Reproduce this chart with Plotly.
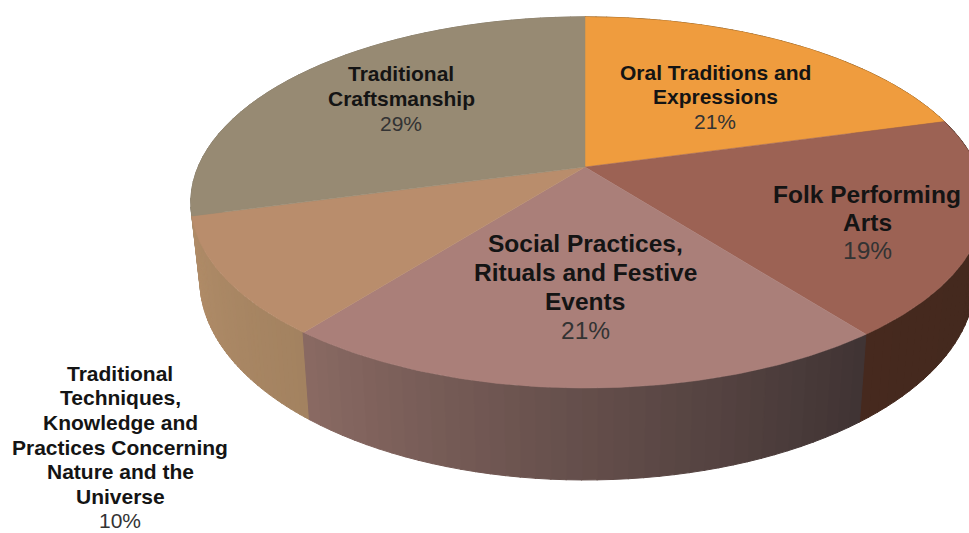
import numpy as np
import plotly.graph_objects as go

categories = [["Oral Traditions and", "Expressions"], ["Folk Performing", "Arts"],
              ["Social Practices,", "Rituals and Festive", "Events"],
              ["Traditional", "Techniques,", "Knowledge and", "Practices Concerning", "Nature and the", "Universe"],
              ["Traditional", "Craftsmanship"]]
values = [20.7, 18.9, 21.0, 10.2, 29.2]
percent_labels = ["21%", "19%", "21%", "10%", "29%"]
top_colors = ["#EF9C3E", "#9C6254", "#AA7F79", "#B98D6C", "#978A73"]
wall_left = ["#8a5a20", "#46291e", "#8A6A63", "#B08C68", "#8a8070"]
wall_right = ["#8a5a20", "#40291E", "#3F3333", "#A38260", "#8a8070"]
label_x = [715, 867, 585, 120, 401]
label_y = [96.5, 222, 287, 447, 98]
label_size = [21, 24.5, 24.5, 21, 21]
label_step = [24.5, 28, 29, 24.6, 25]

CX, CY, A_RIGHT, A_LEFT, B, K, H, S = 585, 167, 392, 387, 178.8, 0.191, 74.4, 0.977


def project(theta):
    u, v = np.sin(theta), np.cos(theta)
    w = 1 + K * v
    a = np.where(u >= 0, A_RIGHT, A_LEFT)
    return CX + a * u / w, CY - B * v / w


def project_base(theta):
    x, y = project(theta)
    return CX + (x - CX) * S, y + H / (1 + K * np.cos(theta))


def mix(c1, c2, t):
    a = [int(c1[i:i + 2], 16) for i in (1, 3, 5)]
    b = [int(c2[i:i + 2], 16) for i in (1, 3, 5)]
    return "rgb(%d,%d,%d)" % tuple(round(p + (q - p) * t) for p, q in zip(a, b))


fig = go.Figure()
fractions = np.cumsum([0] + values) / sum(values)
edges = 2 * np.pi * fractions

# Walls first, far side to near side; the top face covers what cannot be seen.
order = [4, 0, 3, 1, 2]
for i in order:
    a0, a1 = edges[i], edges[i + 1]
    steps = np.linspace(a0, a1, 41)
    for j in range(40):
        t0, t1 = steps[j], steps[j + 1] + 0.002
        xt, yt = project(np.array([t0, t1]))
        xb, yb = project_base(np.array([t0, t1]))
        # Light falls from the left, so shading runs along the screen position.
        col = mix(wall_right[i], wall_left[i], (j + 0.5) / 40)
        fig.add_trace(go.Scatter(
            x=[xt[0], xt[1], xb[1], xb[0], xt[0]],
            y=[yt[0], yt[1], yb[1], yb[0], yt[0]],
            mode="lines", fill="toself", fillcolor=col,
            line=dict(color=col, width=1), hoverinfo="skip", showlegend=False))

for i in range(len(values)):
    th = np.linspace(edges[i], edges[i + 1], 120)
    x, y = project(th)
    xs = np.concatenate([[CX], x, [CX]])
    ys = np.concatenate([[CY], y, [CY]])
    fig.add_trace(go.Scatter(
        x=xs, y=ys, mode="lines", fill="toself", fillcolor=top_colors[i],
        line=dict(color=top_colors[i], width=0.5), hoverinfo="skip", showlegend=False))

for lines, pct, lx, ly, size, step in zip(categories, percent_labels, label_x, label_y, label_size, label_step):
    n = len(lines) + 1
    texts = [f"<b>{t}</b>" for t in lines] + [f"<span style='color:#333'>{pct}</span>"]
    for k, t in enumerate(texts):
        yy = ly + (k - (n - 1) / 2) * step
        fig.add_annotation(
            x=lx, y=yy, xref="x", yref="y",
            showarrow=False, align="center", text=t,
            font=dict(family="Liberation Sans", size=size, color="#141414"))

fig.update_layout(
    width=969, height=533, autosize=False,
    margin=dict(l=0, r=0, t=0, b=0),
    paper_bgcolor="white", plot_bgcolor="white",
    xaxis=dict(range=[0, 969], visible=False, fixedrange=True),
    yaxis=dict(range=[533, 0], visible=False, fixedrange=True),
    showlegend=False)
fig.write_html("out.html", config={"displayModeBar": False},
               post_script="document.body.style.margin='0';document.documentElement.style.overflow='hidden';")
